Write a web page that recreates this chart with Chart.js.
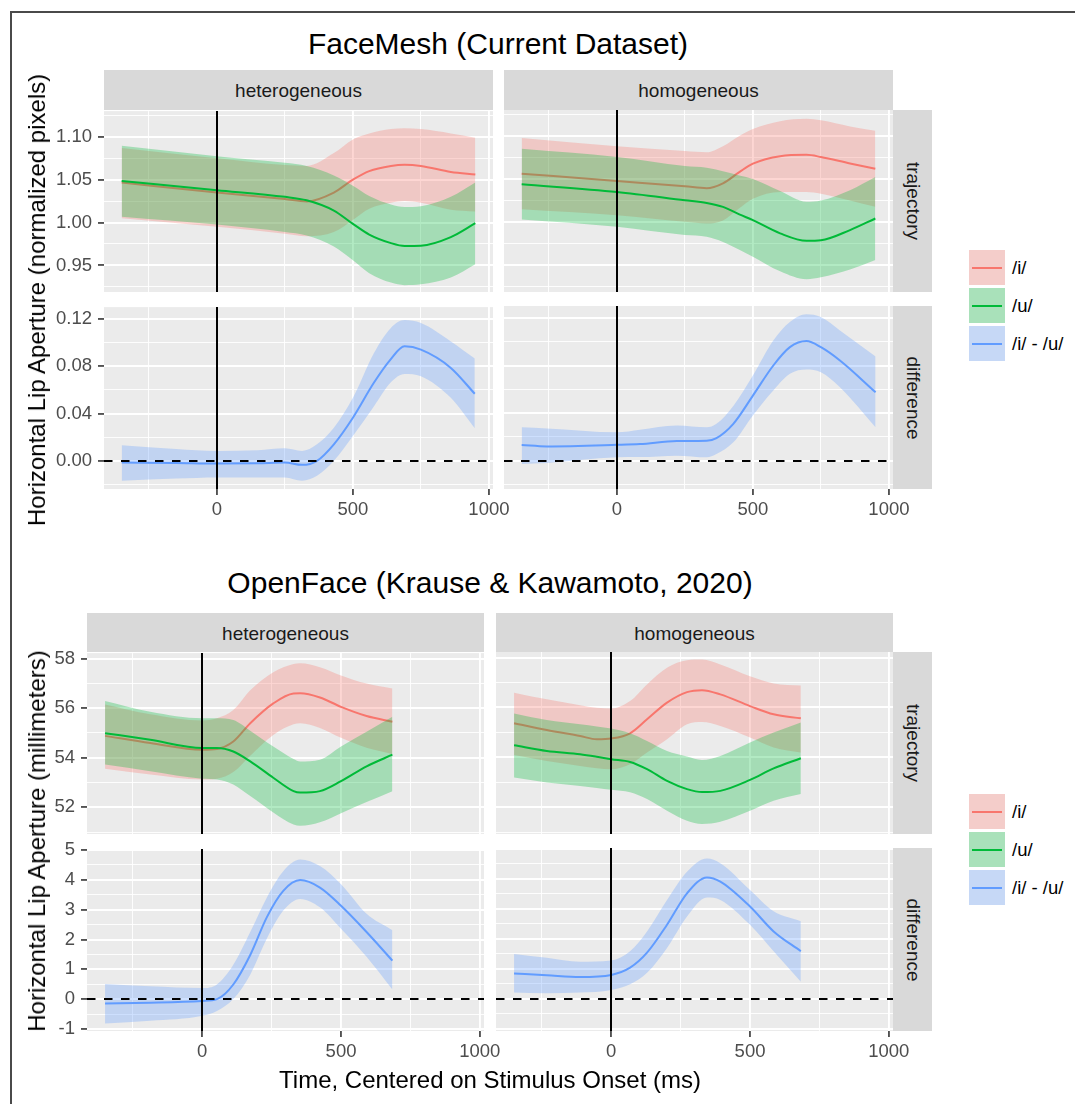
<!DOCTYPE html>
<html>
<head>
<meta charset="utf-8">
<script src="https://cdn.jsdelivr.net/npm/chart.js@4.4.1/dist/chart.umd.min.js"></script>
<style>
  html, body { margin: 0; padding: 0; background: #fff; }
  #fig { position: relative; width: 1075px; height: 1104px; overflow: hidden; background: #fff;
         font-family: 'Liberation Sans', Arial, sans-serif; }
  .frame { position: absolute; left: 10px; top: 11px; right: -4px; bottom: -4px;
           border-left: 2px solid #4a4a4a; border-top: 2px solid #4a4a4a; }
  .t { position: absolute; white-space: nowrap; line-height: 1; transform: translate(-50%, -50%); }
  .strip { position: absolute; background: #D9D9D9; }
  canvas { position: absolute; }
</style>
</head>
<body>
<div id="fig"><div class="frame"></div></div>
<script>
// ---------------- Data ----------------
// FaceMesh (Current Dataset), heterogeneous, trajectory
const fmHetTrajTime = [-350, 0, 250, 330, 430, 500, 560, 640, 690, 750, 860, 950];
const fmHetIMean = [1.0466, 1.0350, 1.0274, 1.0246, 1.0350, 1.0500, 1.0600, 1.0660, 1.0674, 1.0660, 1.0590, 1.0560];
const fmHetIHigh = [1.0870, 1.0750, 1.0670, 1.0660, 1.0810, 1.0970, 1.1040, 1.1090, 1.1100, 1.1090, 1.1040, 1.0990];
const fmHetILow  = [1.0050, 0.9950, 0.9870, 0.9840, 0.9890, 1.0030, 1.0160, 1.0230, 1.0250, 1.0230, 1.0150, 1.0130];
const fmHetUMean = [1.0485, 1.0378, 1.0300, 1.0260, 1.0140, 0.9985, 0.9860, 0.9760, 0.9727, 0.9730, 0.9830, 0.9992];
const fmHetUHigh = [1.0897, 1.0774, 1.0697, 1.0660, 1.0550, 1.0430, 1.0310, 1.0210, 1.0180, 1.0190, 1.0300, 1.0466];
const fmHetULow  = [1.0069, 0.9977, 0.9890, 0.9850, 0.9720, 0.9560, 0.9410, 0.9300, 0.9270, 0.9280, 0.9360, 0.9515];

// FaceMesh (Current Dataset), homogeneous, trajectory
const fmHomTrajTime = [-350, 0, 250, 330, 390, 450, 500, 600, 697, 750, 857, 950];
const fmHomIMean = [1.0562, 1.0477, 1.0416, 1.0393, 1.0450, 1.0580, 1.0678, 1.0765, 1.0780, 1.0755, 1.0680, 1.0620];
const fmHomIHigh = [1.0974, 1.0880, 1.0824, 1.0810, 1.0880, 1.1000, 1.1080, 1.1170, 1.1198, 1.1180, 1.1110, 1.1060];
const fmHomILow  = [1.0150, 1.0080, 1.0004, 0.9985, 1.0020, 1.0160, 1.0270, 1.0350, 1.0350, 1.0330, 1.0250, 1.0177];
const fmHomUMean = [1.0439, 1.0350, 1.0254, 1.0223, 1.0177, 1.0090, 1.0023, 0.9870, 0.9784, 0.9790, 0.9908, 1.0042];
const fmHomUHigh = [1.0850, 1.0755, 1.0650, 1.0630, 1.0590, 1.0540, 1.0500, 1.0360, 1.0235, 1.0250, 1.0370, 1.0523];
const fmHomULow  = [1.0030, 0.9946, 0.9850, 0.9830, 0.9770, 0.9680, 0.9600, 0.9430, 0.9338, 0.9360, 0.9450, 0.9560];

// FaceMesh (Current Dataset), difference /i/ - /u/
const fmHetDiffTime = [-350, -150, 0, 150, 250, 313, 368, 430, 500, 577, 638, 690, 750, 860, 948];
const fmHetDiffMean = [-0.0014, -0.0018, -0.0023, -0.0020, -0.0014, -0.0034, 0.0000, 0.0140, 0.0365, 0.0660, 0.0856, 0.0968, 0.0940, 0.0786, 0.0567];
const fmHetDiffHigh = [0.0132, 0.0100, 0.0084, 0.0090, 0.0107, 0.0084, 0.0140, 0.0280, 0.0533, 0.0910, 0.1120, 0.1190, 0.1165, 0.1010, 0.0865];
const fmHetDiffLow  = [-0.0168, -0.0150, -0.0140, -0.0140, -0.0140, -0.0168, -0.0126, 0.0000, 0.0210, 0.0460, 0.0660, 0.0735, 0.0716, 0.0533, 0.0275];

const fmHomDiffTime = [-350, -258, 0, 85, 220, 330, 366, 428, 500, 575, 636, 697, 750, 820, 951];
const fmHomDiffMean = [0.0132, 0.0120, 0.0133, 0.0140, 0.0165, 0.0168, 0.0190, 0.0310, 0.0547, 0.0800, 0.0954, 0.1005, 0.0954, 0.0842, 0.0575];
const fmHomDiffHigh = [0.0280, 0.0270, 0.0238, 0.0260, 0.0295, 0.0280, 0.0310, 0.0460, 0.0716, 0.1010, 0.1165, 0.1230, 0.1207, 0.1095, 0.0876];
const fmHomDiffLow  = [-0.0028, -0.0020, 0.0028, 0.0030, 0.0042, 0.0028, 0.0056, 0.0154, 0.0380, 0.0590, 0.0730, 0.0766, 0.0744, 0.0617, 0.0280];

// OpenFace (Krause & Kawamoto, 2020), heterogeneous, trajectory
const ofHetTrajTime = [-350, -187, 0, 53, 112, 173, 256, 329, 353, 424, 500, 592, 685];
const ofHetIMean = [54.88, 54.59, 54.32, 54.35, 54.65, 55.39, 56.19, 56.59, 56.60, 56.43, 56.05, 55.68, 55.45];
const ofHetIHigh = [56.15, 55.75, 55.50, 55.59, 55.92, 56.72, 57.45, 57.78, 57.81, 57.65, 57.32, 56.99, 56.79];
const ofHetILow  = [53.55, 53.32, 53.12, 53.15, 53.42, 54.08, 54.92, 55.35, 55.39, 55.20, 54.80, 54.40, 54.15];
const ofHetUMean = [54.99, 54.72, 54.39, 54.39, 54.25, 53.85, 53.19, 52.65, 52.59, 52.65, 53.05, 53.65, 54.12];
const ofHetUHigh = [56.29, 55.85, 55.59, 55.59, 55.52, 55.09, 54.45, 53.95, 53.85, 53.92, 54.45, 55.05, 55.65];
const ofHetULow  = [53.72, 53.45, 53.15, 53.12, 52.92, 52.45, 51.79, 51.30, 51.25, 51.39, 51.76, 52.21, 52.65];

// OpenFace (Krause & Kawamoto, 2020), homogeneous, trajectory
const ofHomTrajTime = [-350, -232, -112, -52, 0, 68, 129, 201, 273, 327, 393, 500, 585, 683];
const ofHomIMean = [55.36, 55.09, 54.85, 54.72, 54.75, 54.96, 55.52, 56.19, 56.61, 56.69, 56.52, 56.05, 55.72, 55.56];
const ofHomIHigh = [56.59, 56.32, 56.08, 55.98, 55.95, 56.25, 56.92, 57.59, 57.89, 57.92, 57.72, 57.25, 56.96, 56.88];
const ofHomILow  = [54.09, 53.85, 53.65, 53.56, 53.52, 53.72, 54.19, 54.72, 55.32, 55.41, 55.25, 54.79, 54.39, 54.19];
const ofHomUMean = [54.48, 54.25, 54.12, 54.02, 53.92, 53.81, 53.52, 53.05, 52.72, 52.60, 52.65, 53.09, 53.55, 53.96];
const ofHomUHigh = [55.75, 55.49, 55.32, 55.23, 55.15, 54.96, 54.65, 54.25, 54.03, 53.89, 54.05, 54.59, 54.99, 55.39];
const ofHomULow  = [53.19, 52.99, 52.85, 52.77, 52.69, 52.59, 52.32, 51.85, 51.45, 51.32, 51.41, 51.85, 52.25, 52.52];

// OpenFace (Krause & Kawamoto, 2020), difference /i/ - /u/
const ofHetDiffTime = [-350, -187, 0, 53, 112, 173, 233, 292, 353, 424, 500, 592, 685];
const ofHetDiffMean = [-0.15, -0.12, -0.06, 0.00, 0.49, 1.48, 2.75, 3.63, 3.99, 3.74, 3.13, 2.25, 1.29];
const ofHetDiffHigh = [0.51, 0.43, 0.37, 0.49, 1.15, 2.25, 3.41, 4.29, 4.68, 4.46, 3.85, 2.86, 2.31];
const ofHetDiffLow  = [-0.82, -0.73, -0.56, -0.40, 0.00, 0.82, 2.03, 2.97, 3.36, 3.08, 2.36, 1.42, 0.32];

const ofHomDiffTime = [-350, -232, -112, 0, 68, 129, 201, 273, 345, 393, 500, 585, 683];
const ofHomDiffMean = [0.85, 0.79, 0.73, 0.80, 1.04, 1.54, 2.47, 3.52, 4.05, 3.91, 3.08, 2.25, 1.59];
const ofHomDiffHigh = [1.50, 1.37, 1.24, 1.28, 1.59, 2.25, 3.30, 4.24, 4.68, 4.52, 3.63, 2.92, 2.59];
const ofHomDiffLow  = [0.21, 0.19, 0.21, 0.30, 0.49, 0.87, 1.70, 2.75, 3.38, 3.30, 2.47, 1.59, 0.57];

// Axis limits and tick values
const timeLimits = [-415, 1015];
const timeMajor = [0, 500, 1000];
const timeMinor = [-250, 250, 750];
const fmTrajLimits = [0.919, 1.130];
const fmTrajMajor = [0.95, 1.00, 1.05, 1.10];
const fmTrajMinor = [0.925, 0.975, 1.025, 1.075, 1.125];
const fmDiffLimits = [-0.0238, 0.130];
const fmDiffMajor = [0.00, 0.04, 0.08, 0.12];
const fmDiffMinor = [-0.02, 0.02, 0.06, 0.10];
const ofTrajLimits = [50.92, 58.22];
const ofTrajMajor = [52, 54, 56, 58];
const ofTrajMinor = [51, 53, 55, 57];
const ofDiffLimits = [-1.07, 5.03];
const ofDiffMajor = [-1, 0, 1, 2, 3, 4, 5];
const ofDiffMinor = [-0.5, 0.5, 1.5, 2.5, 3.5, 4.5];

// Series labels and colours
const seriesNames = ['/i/', '/u/', '/i/ - /u/'];
const lineColors = ['#F8766D', '#00BA38', '#619CFF'];
const bandColors = ['rgba(248,118,109,0.3)', 'rgba(0,186,56,0.3)', 'rgba(97,156,255,0.3)'];

// ---------------- Drawing ----------------
const FONT = "'Liberation Sans', Arial, sans-serif";
Chart.defaults.font.family = FONT;
Chart.defaults.font.size = 18.5;
Chart.defaults.color = '#4D4D4D';

const fig = document.getElementById('fig');

function text(str, cx, cy, size, color, rot) {
  const d = document.createElement('div');
  d.className = 't';
  d.textContent = str;
  d.style.left = cx + 'px';
  d.style.top = cy + 'px';
  d.style.fontSize = size + 'px';
  d.style.color = color;
  if (rot) d.style.transform = 'translate(-50%,-50%) rotate(' + rot + 'deg)';
  fig.appendChild(d);
  return d;
}

function strip(label, left, top, w, h, rot) {
  const s = document.createElement('div');
  s.className = 'strip';
  Object.assign(s.style, { left: left + 'px', top: top + 'px', width: w + 'px', height: h + 'px' });
  fig.appendChild(s);
  text(label, left + w / 2, top + h / 2, 19, '#1A1A1A', rot);
}

const pts = (xs, ys) => xs.map((x, i) => ({ x, y: ys[i] }));

// ribbon (low/high) followed by the mean line of one series
function smooth(xs, low, high, mean, k) {
  return [
    { data: pts(xs, low), borderWidth: 0, borderColor: 'transparent', pointRadius: 0, fill: false },
    { data: pts(xs, high), borderWidth: 0, borderColor: 'transparent', pointRadius: 0,
      fill: '-1', backgroundColor: bandColors[k] },
    { data: pts(xs, mean), borderWidth: 2, borderColor: lineColors[k], pointRadius: 0, fill: false }
  ];
}

const near = (v, arr) => arr.some(m => Math.abs(m - v) < 1e-9);

function axis(limits, major, minor, show, fmt, isX, size) {
  const all = major.concat(minor).sort((a, b) => a - b);
  return {
    type: 'linear',
    min: limits[0], max: limits[1],
    afterBuildTicks: s => { s.ticks = all.map(v => ({ value: v })); },
    afterFit: s => { if (isX) s.height = size; else s.width = size; },
    border: { display: false },
    grid: {
      color: '#FFFFFF',
      lineWidth: c => (c.tick && near(c.tick.value, major)) ? 1.9 : 0.9,
      drawTicks: show,
      tickLength: 6,
      tickWidth: 1.6,
      tickColor: c => (c.tick && near(c.tick.value, major)) ? '#333333' : 'rgba(0,0,0,0)'
    },
    ticks: {
      display: show,
      autoSkip: false,
      maxRotation: 0,
      minRotation: 0,
      padding: isX ? 4 : 6,
      color: '#4D4D4D',
      font: { size: 18.5, family: FONT },
      callback: v => near(v, major) ? fmt(v) : ''
    }
  };
}

function panel(o) {
  const YW = o.yw || 0;
  const XH = o.showX ? 36 : 0;
  const PT = 16;                    // room for tick labels reaching above the panel
  const PB = o.showX ? 0 : 24;      // room for tick labels reaching below the panel
  const PR = o.showX ? 32 : 0;      // room for the last time label
  const W = YW + o.w + PR, H = PT + o.h + XH + PB;
  const cv = document.createElement('canvas');
  cv.width = W; cv.height = H;
  Object.assign(cv.style, { left: (o.left - YW) + 'px', top: (o.top - PT) + 'px', width: W + 'px', height: H + 'px' });
  fig.appendChild(cv);

  const datasets = o.datasets;
  datasets.forEach((d, i) => { d.order = -i; });

  const panelBg = {
    id: 'panelBg',
    beforeDraw(chart) {
      const { ctx, chartArea: a } = chart;
      ctx.save();
      ctx.fillStyle = '#EBEBEB';
      ctx.fillRect(a.left, a.top, a.right - a.left, a.bottom - a.top);
      ctx.restore();
    }
  };
  const refLines = {
    id: 'refLines',
    afterDatasetsDraw(chart) {
      const { ctx, chartArea: a, scales } = chart;
      ctx.save();
      ctx.beginPath();
      ctx.rect(a.left, a.top, a.right - a.left, a.bottom - a.top);
      ctx.clip();
      ctx.strokeStyle = '#000';
      ctx.lineWidth = 2;
      if (o.zeroLine) {
        const py = Math.round(scales.y.getPixelForValue(0));
        ctx.setLineDash([8.5, 8.5]);
        ctx.beginPath(); ctx.moveTo(a.left, py); ctx.lineTo(a.right, py); ctx.stroke();
      }
      ctx.setLineDash([]);
      const px = Math.round(scales.x.getPixelForValue(0));
      ctx.beginPath(); ctx.moveTo(px, a.top); ctx.lineTo(px, a.bottom); ctx.stroke();
      ctx.restore();
    }
  };

  new Chart(cv, {
    type: 'line',
    data: { datasets },
    options: {
      responsive: false,
      animation: false,
      devicePixelRatio: 1,
      layout: { padding: { top: PT, right: PR, left: 0, bottom: PB } },
      elements: { line: { cubicInterpolationMode: 'monotone' }, point: { radius: 0 } },
      plugins: { legend: { display: false }, tooltip: { enabled: false }, filler: { propagate: false } },
      scales: {
        x: axis(timeLimits, timeMajor, timeMinor, !!o.showX, v => String(v), true, XH),
        y: axis(o.yLimits, o.yMajor, o.yMinor, YW > 0, o.fmt, false, YW)
      }
    },
    plugins: [panelBg, refLines]
  });
}

function legend(top) {
  for (let k = 0; k < 3; k++) {
    const y = top + k * 38;
    const key = document.createElement('div');
    Object.assign(key.style, { position: 'absolute', left: '969px', top: y + 'px', width: '36px', height: '35px',
      background: '#F2F2F2' });
    const fillDiv = document.createElement('div');
    Object.assign(fillDiv.style, { position: 'absolute', left: 0, top: 0, right: 0, bottom: 0, background: bandColors[k] });
    const ln = document.createElement('div');
    Object.assign(ln.style, { position: 'absolute', left: '3px', right: '3px', top: '16.5px', height: '2px', background: lineColors[k] });
    key.appendChild(fillDiv); key.appendChild(ln);
    fig.appendChild(key);
    const t = text(seriesNames[k], 1012, y + 17.5, 18.5, '#000');
    t.style.transform = 'translate(0,-50%)';
  }
}

const fmt2 = v => v.toFixed(2);
const fmt0 = v => String(v);

// ----- FaceMesh (Current Dataset) -----
text('FaceMesh (Current Dataset)', 498, 44, 30, '#000');
strip('heterogeneous', 104, 70, 389, 40);
strip('homogeneous', 504, 70, 389, 40);
strip('trajectory', 893, 110, 39, 182, 90);
strip('difference', 893, 306, 39, 183, 90);

panel({ left: 104, top: 110, w: 389, h: 182, yw: 64, yLimits: fmTrajLimits, yMajor: fmTrajMajor, yMinor: fmTrajMinor, fmt: fmt2,
  datasets: smooth(fmHetTrajTime, fmHetILow, fmHetIHigh, fmHetIMean, 0).concat(smooth(fmHetTrajTime, fmHetULow, fmHetUHigh, fmHetUMean, 1)) });
panel({ left: 504, top: 110, w: 389, h: 182, yLimits: fmTrajLimits, yMajor: fmTrajMajor, yMinor: fmTrajMinor, fmt: fmt2,
  datasets: smooth(fmHomTrajTime, fmHomILow, fmHomIHigh, fmHomIMean, 0).concat(smooth(fmHomTrajTime, fmHomULow, fmHomUHigh, fmHomUMean, 1)) });
panel({ left: 104, top: 306, w: 389, h: 183, yw: 64, showX: true, zeroLine: true, yLimits: fmDiffLimits, yMajor: fmDiffMajor, yMinor: fmDiffMinor, fmt: fmt2,
  datasets: smooth(fmHetDiffTime, fmHetDiffLow, fmHetDiffHigh, fmHetDiffMean, 2) });
panel({ left: 504, top: 306, w: 389, h: 183, showX: true, zeroLine: true, yLimits: fmDiffLimits, yMajor: fmDiffMajor, yMinor: fmDiffMinor, fmt: fmt2,
  datasets: smooth(fmHomDiffTime, fmHomDiffLow, fmHomDiffHigh, fmHomDiffMean, 2) });

text('Horizontal Lip Aperture (normalized pixels)', 37, 300, 24, '#000', -90);
legend(250);

// ----- OpenFace (Krause & Kawamoto, 2020) -----
text('OpenFace (Krause & Kawamoto, 2020)', 490, 583, 30, '#000');
strip('heterogeneous', 87, 613, 397, 39);
strip('homogeneous', 496, 613, 397, 39);
strip('trajectory', 893, 652, 39, 182, 90);
strip('difference', 893, 848, 39, 183, 90);

panel({ left: 87, top: 652, w: 397, h: 182, yw: 60, yLimits: ofTrajLimits, yMajor: ofTrajMajor, yMinor: ofTrajMinor, fmt: fmt0,
  datasets: smooth(ofHetTrajTime, ofHetILow, ofHetIHigh, ofHetIMean, 0).concat(smooth(ofHetTrajTime, ofHetULow, ofHetUHigh, ofHetUMean, 1)) });
panel({ left: 496, top: 652, w: 397, h: 182, yLimits: ofTrajLimits, yMajor: ofTrajMajor, yMinor: ofTrajMinor, fmt: fmt0,
  datasets: smooth(ofHomTrajTime, ofHomILow, ofHomIHigh, ofHomIMean, 0).concat(smooth(ofHomTrajTime, ofHomULow, ofHomUHigh, ofHomUMean, 1)) });
panel({ left: 87, top: 848, w: 397, h: 183, yw: 60, showX: true, zeroLine: true, yLimits: ofDiffLimits, yMajor: ofDiffMajor, yMinor: ofDiffMinor, fmt: fmt0,
  datasets: smooth(ofHetDiffTime, ofHetDiffLow, ofHetDiffHigh, ofHetDiffMean, 2) });
panel({ left: 496, top: 848, w: 397, h: 183, showX: true, zeroLine: true, yLimits: ofDiffLimits, yMajor: ofDiffMajor, yMinor: ofDiffMinor, fmt: fmt0,
  datasets: smooth(ofHomDiffTime, ofHomDiffLow, ofHomDiffHigh, ofHomDiffMean, 2) });

text('Horizontal Lip Aperture (millimeters)', 37, 841, 24, '#000', -90);
text('Time, Centered on Stimulus Onset (ms)', 490, 1080, 24, '#000');
legend(794);
</script>
</body>
</html>
